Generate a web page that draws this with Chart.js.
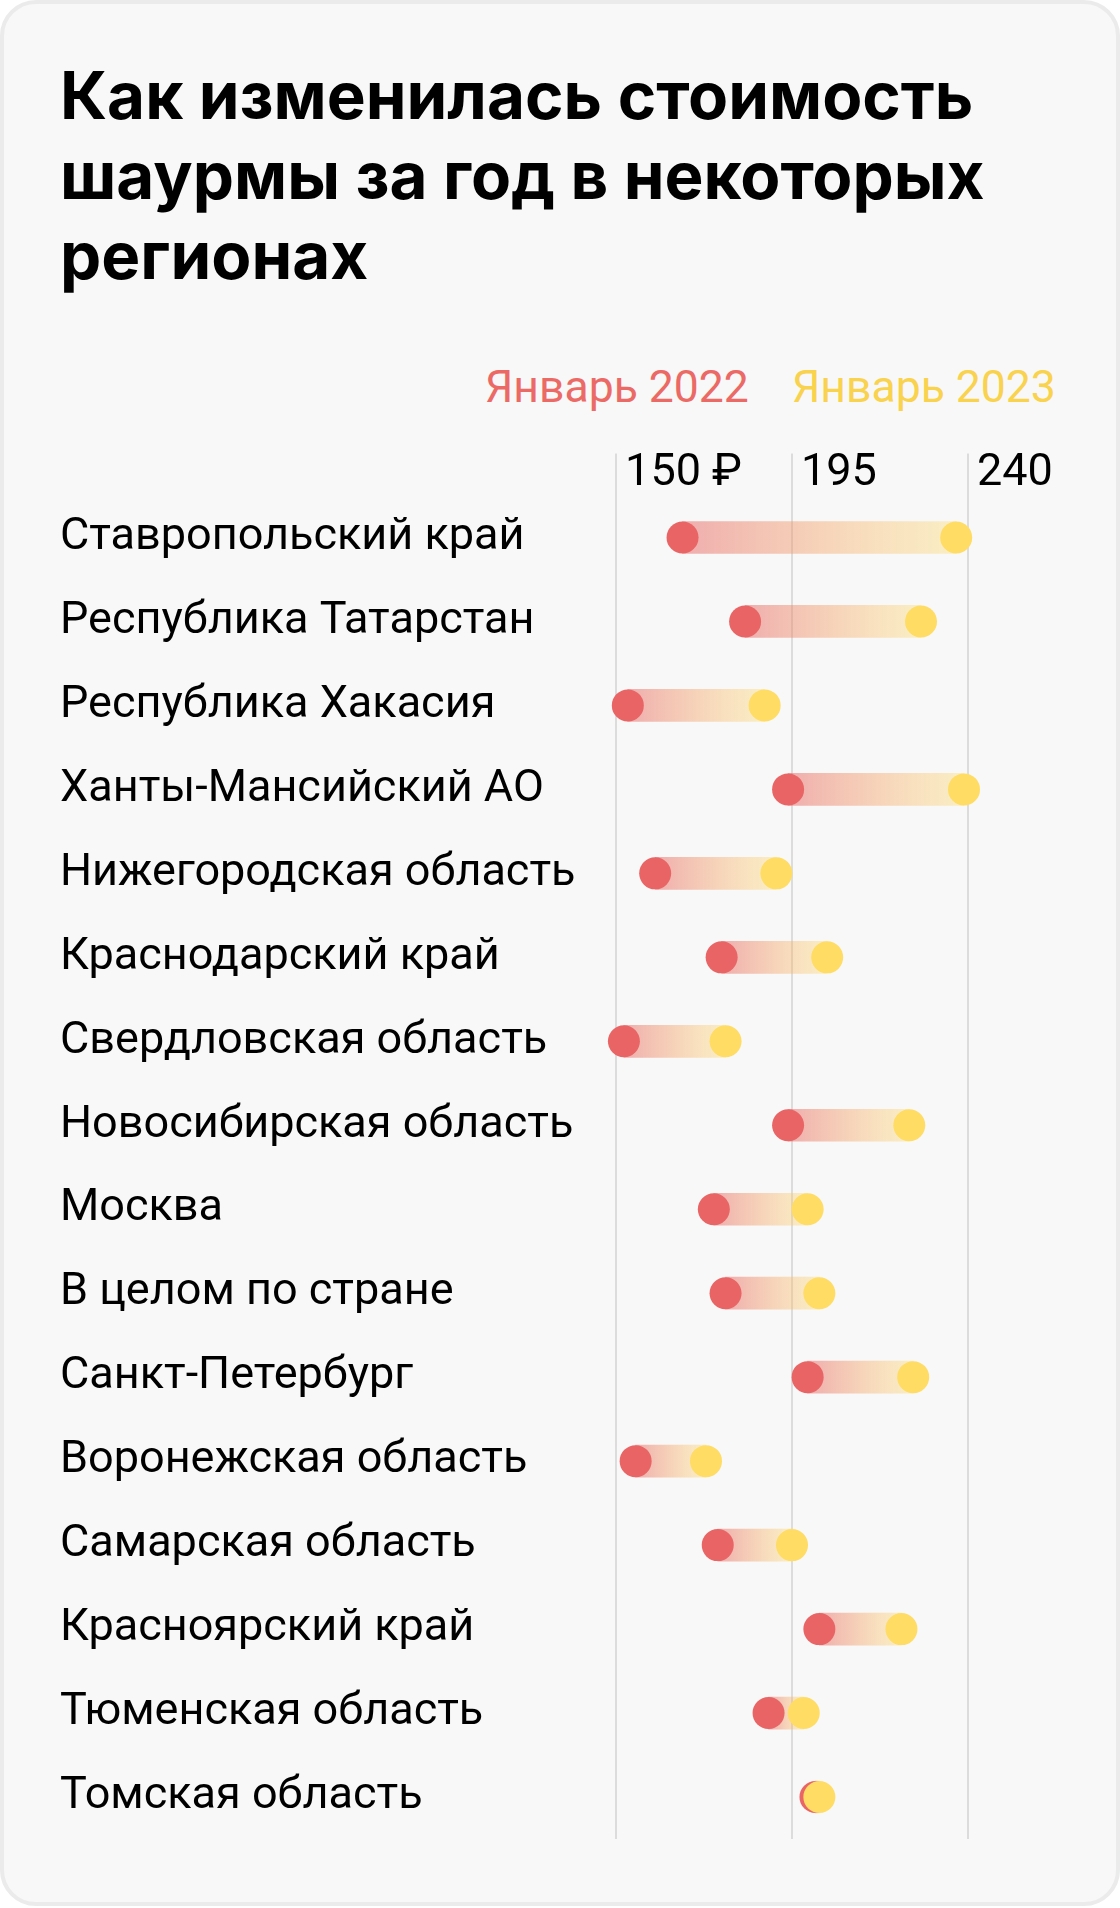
<!DOCTYPE html>
<html lang="ru">
<head>
<meta charset="utf-8">
<title>Стоимость шаурмы</title>
<script src="https://cdn.jsdelivr.net/npm/chart.js@4.4.1/dist/chart.umd.min.js"></script>
<style>
  html, body { margin: 0; padding: 0; background: #fff; }
  .card {
    position: absolute; left: 0; top: 0;
    width: 1120px; height: 1906px; box-sizing: border-box;
    border: 4px solid #ebebeb; border-radius: 36px;
    background: #f8f8f8;
  }
  h1 {
    position: absolute; left: 56px; top: 52px; margin: 0;
    font-family: Inter, Roboto, sans-serif; font-weight: 700;
    font-size: 65.5px; line-height: 80px; color: #000;
  }
  .legend span {
    position: absolute; top: 361px;
    font-family: Roboto, sans-serif; font-size: 44.5px; line-height: 44px;
    white-space: nowrap;
  }
  #chart { position: absolute; left: -4px; top: 396px; }
</style>
</head>
<body>
<div class="card">
  <h1>Как изменилась стоимость<br>шаурмы за год в некоторых<br>регионах</h1>
  <div class="legend">
    <span style="left:481px;color:#ec6a66">Январь 2022</span>
    <span style="left:788px;color:#f9d24e">Январь 2023</span>
  </div>
  <canvas id="chart" width="1120" height="1455"></canvas>
</div>
<script>
// регионы сверху вниз
const regions = [
  'Ставропольский край',
  'Республика Татарстан',
  'Республика Хакасия',
  'Ханты-Мансийский АО',
  'Нижегородская область',
  'Краснодарский край',
  'Свердловская область',
  'Новосибирская область',
  'Москва',
  'В целом по стране',
  'Санкт-Петербург',
  'Воронежская область',
  'Самарская область',
  'Красноярский край',
  'Тюменская область',
  'Томская область'
];
// средняя цена шаурмы, рубли
const jan2022 = [167, 183, 153, 194, 160, 177, 152, 194, 175, 178, 199, 155, 176, 202, 189, 201];
const jan2023 = [237, 228, 188, 239, 191, 204, 178, 225, 199, 202, 226, 173, 195, 223, 198, 202];

const xTicks = [150, 195, 240];
const xTickLabels = ['150 ₽', '195', '240'];

const red = '#e96464';
const yellow = '#ffdc64';

// gradient from the 2022 dot to the 2023 dot of each bar
function barGradient(ctx) {
  const fallback = 'rgba(240,180,175,0.6)';
  if (ctx.type !== 'data' || !ctx.raw) return fallback;
  const x = ctx.chart.scales.x;
  if (!x) return fallback;
  const x0 = x.getPixelForValue(ctx.raw[0]);
  const x1 = x.getPixelForValue(ctx.raw[1]);
  if (!isFinite(x0) || !isFinite(x1)) return fallback;
  const g = ctx.chart.ctx.createLinearGradient(x0, 0, x1, 0);
  g.addColorStop(0, 'rgba(232,100,100,0.5)');
  g.addColorStop(1, 'rgba(255,220,100,0.35)');
  return g;
}

const ctx = document.getElementById('chart').getContext('2d');
const chart = new Chart(ctx, {
  type: 'bar',
  data: {
    labels: regions,
    datasets: [
      {
        label: 'Январь 2023',
        type: 'line',
        data: regions.map((r, i) => ({ x: jan2023[i], y: r })),
        showLine: false,
        pointRadius: 16,
        pointHoverRadius: 16,
        pointBorderWidth: 0,
        pointBackgroundColor: yellow,
        order: 1
      },
      {
        label: 'Январь 2022',
        type: 'line',
        data: regions.map((r, i) => ({ x: jan2022[i], y: r })),
        showLine: false,
        pointRadius: 16,
        pointHoverRadius: 16,
        pointBorderWidth: 0,
        pointBackgroundColor: red,
        order: 2
      },
      {
        label: 'change',
        data: regions.map((r, i) => [jan2022[i], jan2023[i]]),
        backgroundColor: barGradient,
        borderWidth: 0,
        barThickness: 32,
        order: 3
      }
    ]
  },
  options: {
    indexAxis: 'y',
    responsive: false,
    animation: false,
    layout: { padding: { left: 60, right: 113, top: 0, bottom: 3 } },
    plugins: {
      legend: { display: false },
      tooltip: { enabled: false }
    },
    scales: {
      x: {
        type: 'linear',
        position: 'top',
        min: 140,
        max: 250,
        border: { display: false },
        grid: { color: '#dcdcdc', lineWidth: 2, tickLength: 42 },
        afterBuildTicks: (axis) => { axis.ticks = xTicks.map(v => ({ value: v })); },
        afterFit: (axis) => { axis.height = 95.5; axis.paddingLeft = 0; axis.paddingRight = 0; },
        ticks: {
          align: 'start',
          labelOffset: 9,
          padding: -47,
          maxRotation: 0,
          color: '#000',
          font: { family: 'Roboto', size: 45 },
          callback: (v) => xTickLabels[xTicks.indexOf(v)]
        }
      },
      y: {
        type: 'category',
        offset: true,
        border: { display: false },
        grid: { display: false },
        afterFit: (axis) => { axis.width = 517; axis.paddingTop = 0; axis.paddingBottom = 0; },
        ticks: {
          crossAlign: 'far',
          color: '#000',
          font: { family: 'Roboto', size: 45 }
        }
      }
    }
  }
});
</script>
</body>
</html>
